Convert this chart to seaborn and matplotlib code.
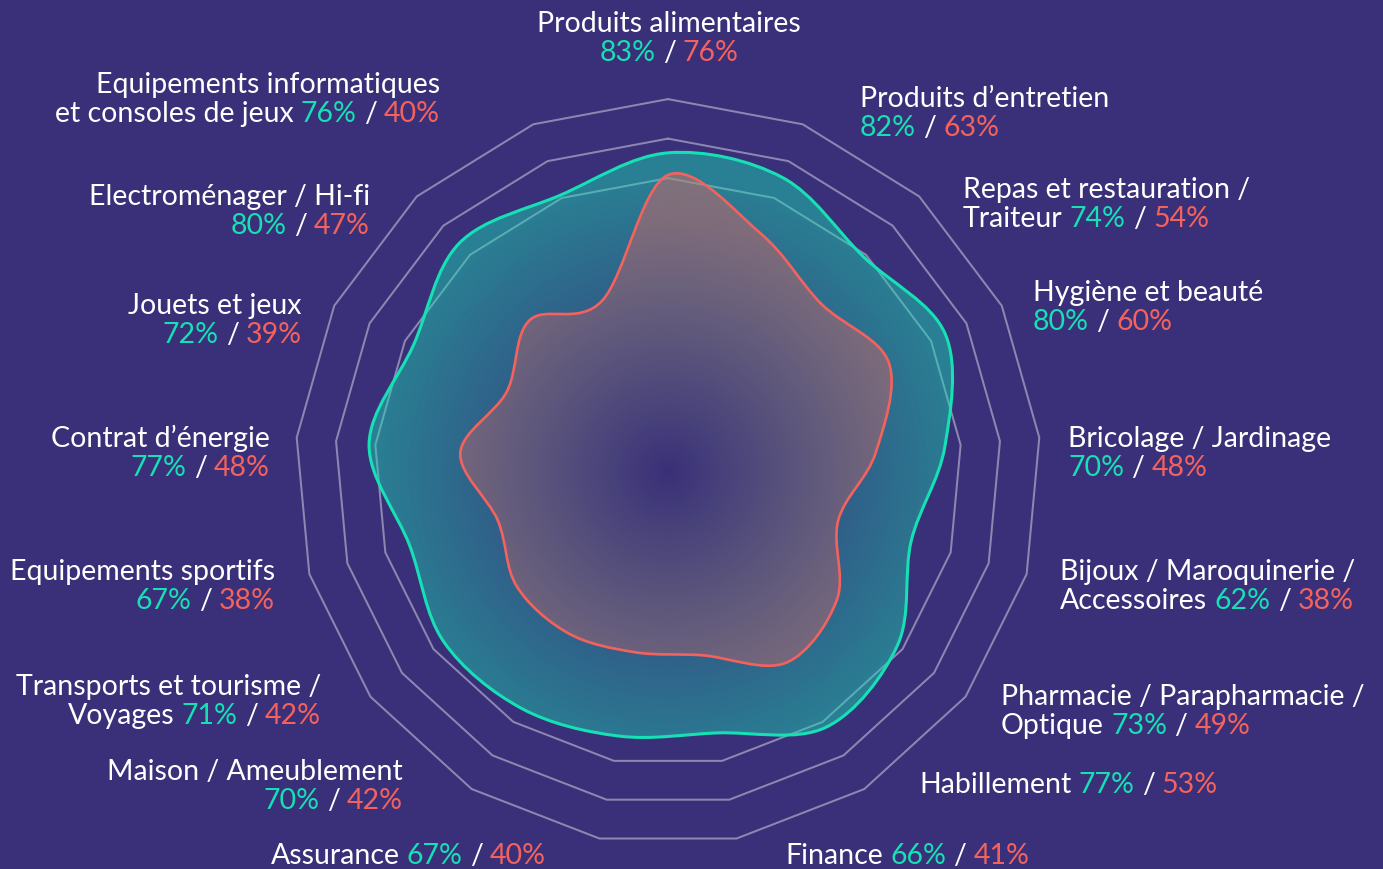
import numpy as np
import matplotlib
matplotlib.use("Agg")
import matplotlib.pyplot as plt
from matplotlib.path import Path
from matplotlib.patches import PathPatch
from matplotlib.colors import to_rgb
import seaborn as sns
import pandas as pd

# ---- data (clockwise from the top) ----
categories = [
    "Produits alimentaires", "Produits d’entretien", "Repas et restauration / Traiteur",
    "Hygiène et beauté", "Bricolage / Jardinage", "Bijoux / Maroquinerie / Accessoires",
    "Pharmacie / Parapharmacie / Optique", "Habillement", "Finance", "Assurance",
    "Maison / Ameublement", "Transports et tourisme / Voyages", "Equipements sportifs",
    "Contrat d’énergie", "Jouets et jeux", "Electroménager / Hi-fi",
    "Equipements informatiques et consoles de jeux",
]
teal_vals = [83, 82, 74, 80, 70, 62, 73, 77, 66, 67, 70, 71, 67, 77, 72, 80, 76]
red_vals = [76, 63, 54, 60, 48, 38, 49, 53, 41, 40, 42, 42, 38, 48, 39, 47, 40]
ring_levels = [75, 87.5, 100]
r_origin = -18

# label text split over lines: (first line, prefix placed before the percentages)
label_lines = [
    ("Produits alimentaires", ""),
    ("Produits d’entretien", ""),
    ("Repas et restauration /", "Traiteur"),
    ("Hygiène et beauté", ""),
    ("Bricolage / Jardinage", ""),
    ("Bijoux / Maroquinerie /", "Accessoires"),
    ("Pharmacie / Parapharmacie /", "Optique"),
    (None, "Habillement"),
    (None, "Finance"),
    (None, "Assurance"),
    ("Maison / Ameublement", ""),
    ("Transports et tourisme /", "Voyages"),
    ("Equipements sportifs", ""),
    ("Contrat d’énergie", ""),
    ("Jouets et jeux", ""),
    ("Electroménager / Hi-fi", ""),
    ("Equipements informatiques", "et consoles de jeux"),
]
# label anchors in pixels: x, alignment, baseline of first line
label_pos = [
    (669, "center", 32), (860, "left", 107), (963, "left", 198), (1033, "left", 301),
    (1068, "left", 447), (1060, "left", 580), (1001, "left", 705), (919, "left", 793),
    (785, "left", 864), (546, "right", 864), (403, "right", 780), (321, "right", 695),
    (275, "right", 580), (270, "right", 447), (302, "right", 314), (370, "right", 205),
    (440, "right", 93),
]

BG = "#3a3079"
TEAL = "#16e0b4"
RED = "#f4625e"
W, H = 1383, 870
PX = 3.16          # pixels per radial unit
CX, CY = 668, 473  # chart centre in pixels
FS = 20.5
LINE_STEP = 29

sns.set_theme(style="white")
plt.rcParams["font.family"] = ["Lato", "DejaVu Sans"]

fig = plt.figure(figsize=(W / 100, H / 100), dpi=100, facecolor=BG)
ax = fig.add_axes([0, 0, 1, 1])
ax.set_facecolor(BG)
xlim = (-CX / PX, (W - CX) / PX)
ylim = (-(H - CY) / PX, CY / PX)

n = len(categories)
angles = np.arange(n) * 2 * np.pi / n


def to_xy(vals):
    r = np.asarray(vals, float) - r_origin
    return r * np.sin(angles), r * np.cos(angles)


# ---- grid rings ----
rows = []
for lv in ring_levels:
    x, y = to_xy([lv] * n)
    for i in list(range(n)) + [0]:
        rows.append({"ring": lv, "x": x[i], "y": y[i]})
df_rings = pd.DataFrame(rows)
sns.lineplot(data=df_rings, x="x", y="y", units="ring", estimator=None, sort=False,
             color="white", alpha=0.42, lw=1.45, ax=ax, zorder=1, legend=False)


def smooth_path(vals):
    x, y = to_xy(vals)
    P = np.column_stack([x, y])
    verts, codes = [P[0]], [Path.MOVETO]
    for i in range(n):
        p0, p1, p2, p3 = P[i - 1], P[i], P[(i + 1) % n], P[(i + 2) % n]
        verts += [p1 + (p2 - p0) / 6, p2 - (p3 - p1) / 6, p2]
        codes += [Path.CURVE4] * 3
    verts.append(P[0])
    codes.append(Path.CLOSEPOLY)
    return Path(verts, codes)


gx = np.linspace(*xlim, 700)
gy = np.linspace(*ylim, 440)
GX, GY = np.meshgrid(gx, gy)
GR = np.hypot(GX, GY)


def radial_fill(path, color, r_norm, a_max, z):
    rgba = np.zeros(GR.shape + (4,))
    rgba[..., :3] = to_rgb(color)
    rgba[..., 3] = a_max * np.clip(GR / r_norm, 0, 1)
    im = ax.imshow(rgba, extent=[*xlim, *ylim], origin="lower", aspect="auto",
                   interpolation="bilinear", zorder=z)
    clip = PathPatch(path, facecolor="none", edgecolor="none")
    ax.add_patch(clip)
    im.set_clip_path(clip)


teal_path = smooth_path(teal_vals)
red_path = smooth_path(red_vals)
radial_fill(teal_path, TEAL, 95, 0.46, 2)
radial_fill(red_path, RED, 80, 0.42, 3)
ax.add_patch(PathPatch(teal_path, facecolor="none", edgecolor=TEAL, lw=2.2, zorder=4))
ax.add_patch(PathPatch(red_path, facecolor="none", edgecolor=RED, lw=1.9, zorder=5))

ax.set_xlim(*xlim)
ax.set_ylim(*ylim)
ax.axis("off")

# ---- labels (multi-coloured lines) ----
fig.canvas.draw()
renderer = fig.canvas.get_renderer()


def measure(s):
    t = fig.text(0, 0, s, fontsize=FS)
    w = t.get_window_extent(renderer).width
    t.remove()
    return w


space = measure("a a") - measure("aa")


def draw_line(segments, x, y_base, ha):
    widths = [measure(s) for s, _ in segments]
    total = sum(widths) + space * (len(segments) - 1)
    x0 = x - total if ha == "right" else (x - total / 2 if ha == "center" else x)
    for (s, c), w in zip(segments, widths):
        fig.text(x0 / W, 1 - y_base / H, s, color=c, fontsize=FS,
                 va="baseline", ha="left")
        x0 += w + space


for (first, prefix), (x, ha, yb), tv, rv in zip(label_lines, label_pos, teal_vals, red_vals):
    pct = [(f"{tv}%", TEAL), ("/", "white"), (f"{rv}%", RED)]
    if first is not None:
        draw_line([(first, "white")], x, yb, ha)
        yb += LINE_STEP
    line2 = ([(prefix, "white")] if prefix else []) + pct
    draw_line(line2, x, yb, ha)

fig.savefig("out.png", dpi=100, facecolor=BG)
